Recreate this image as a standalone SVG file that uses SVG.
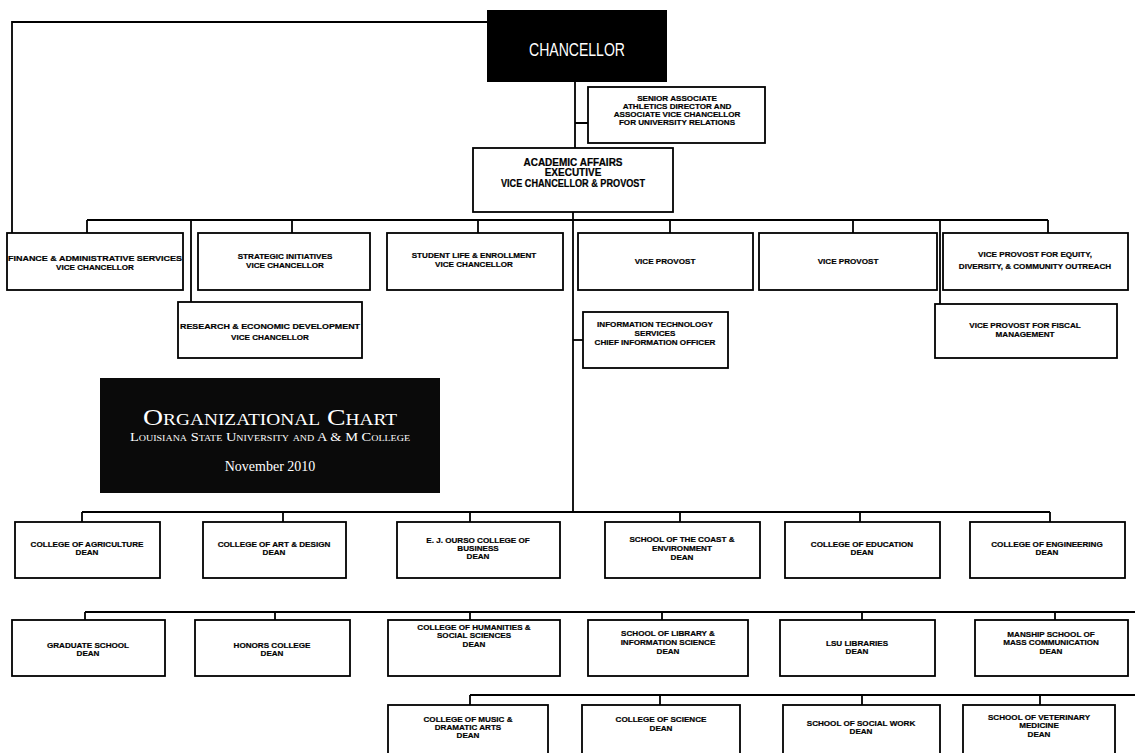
<svg xmlns="http://www.w3.org/2000/svg" width="1135" height="753" viewBox="0 0 1135 753">
<style>
.box{fill:#fff;stroke:#000;stroke-width:1.8}
.t{font-family:"Liberation Sans",Arial,sans-serif;font-weight:bold;font-size:8.1px;fill:#000;stroke:#000;stroke-width:0.2;text-anchor:middle}
.big{font-size:10px}
.ln{fill:none;stroke:#000;stroke-width:1.8}
.sc{font-family:"Liberation Serif","Times New Roman",serif;fill:#fff;text-anchor:middle}
</style>
<rect width="1135" height="753" fill="#fff"/>
<g id="connectors" class="ln">
<path d="M487 22H12V233"/>
<path d="M575 82V148M575 123H588"/>
<path d="M573 212V512"/>
<path d="M87 220H1048"/>
<path d="M87 220V233M191 220V302M292 220V233M478 220V233M670 220V233M853 220V233M940 220V304M1048 220V233"/>
<path d="M573 340H583"/>
<path d="M82 512H1050M82 512V522M283 512V522M470 512V522M680 512V522M860 512V522M1050 512V522"/>
<path d="M85 612H1135M85 612V620M275 612V620M470 612V620M662 612V620M862 612V620M1055 612V620"/>
<path d="M470 695H1135M470 695V705M660 695V705M862 695V705M1040 695V705"/>
</g>
<g id="chancellor">
<rect x="487" y="10" width="180" height="72" fill="#000"/>
<text x="577" y="56" font-family="Liberation Sans,Arial,sans-serif" font-size="17.5" fill="#fff" text-anchor="middle" textLength="96" lengthAdjust="spacingAndGlyphs">CHANCELLOR</text>
</g>
<g id="senior">
<rect class="box" x="588" y="87" width="177" height="56"/>
<text class="t" x="677" y="101">SENIOR ASSOCIATE</text>
<text class="t" x="677" y="109">ATHLETICS DIRECTOR AND</text>
<text class="t" x="677" y="117">ASSOCIATE VICE CHANCELLOR</text>
<text class="t" x="677" y="125">FOR UNIVERSITY RELATIONS</text>
</g>
<g id="academic">
<rect class="box" x="473" y="148" width="200" height="64"/>
<text class="t big" x="573" y="166">ACADEMIC AFFAIRS</text>
<text class="t big" x="573" y="176">EXECUTIVE</text>
<text class="t big" x="573" y="187" textLength="144" lengthAdjust="spacingAndGlyphs">VICE CHANCELLOR &amp; PROVOST</text>
</g>
<g id="finance">
<rect class="box" x="7" y="233" width="176" height="57"/>
<text class="t" x="95" y="261" textLength="174" lengthAdjust="spacingAndGlyphs">FINANCE &amp; ADMINISTRATIVE SERVICES</text>
<text class="t" x="95" y="270">VICE CHANCELLOR</text>
</g>
<g id="strategic">
<rect class="box" x="198" y="233" width="172" height="57"/>
<text class="t" x="285" y="259">STRATEGIC INITIATIVES</text>
<text class="t" x="285" y="268">VICE CHANCELLOR</text>
</g>
<g id="studentlife">
<rect class="box" x="387" y="233" width="176" height="57"/>
<text class="t" x="474" y="258">STUDENT LIFE &amp; ENROLLMENT</text>
<text class="t" x="474" y="267">VICE CHANCELLOR</text>
</g>
<g id="viceprovost1">
<rect class="box" x="578" y="233" width="175" height="57"/>
<text class="t" x="665" y="264">VICE PROVOST</text>
</g>
<g id="viceprovost2">
<rect class="box" x="759" y="233" width="178" height="57"/>
<text class="t" x="848" y="264">VICE PROVOST</text>
</g>
<g id="equity">
<rect class="box" x="943" y="233" width="185" height="57"/>
<text class="t" x="1035" y="257">VICE PROVOST FOR EQUITY,</text>
<text class="t" x="1035" y="269">DIVERSITY, &amp; COMMUNITY OUTREACH</text>
</g>
<g id="research">
<rect class="box" x="178" y="302" width="184" height="56"/>
<text class="t" x="270" y="329" textLength="180" lengthAdjust="spacingAndGlyphs">RESEARCH &amp; ECONOMIC DEVELOPMENT</text>
<text class="t" x="270" y="340">VICE CHANCELLOR</text>
</g>
<g id="infotech">
<rect class="box" x="583" y="312" width="145" height="56"/>
<text class="t" x="655" y="327">INFORMATION TECHNOLOGY</text>
<text class="t" x="655" y="336">SERVICES</text>
<text class="t" x="655" y="345">CHIEF INFORMATION OFFICER</text>
</g>
<g id="fiscal">
<rect class="box" x="935" y="304" width="182" height="54"/>
<text class="t" x="1025" y="328">VICE PROVOST FOR FISCAL</text>
<text class="t" x="1025" y="337">MANAGEMENT</text>
</g>
<g id="title">
<rect x="100" y="378" width="340" height="115" fill="#0a0a0a"/>
<text class="sc" x="270" y="425" font-size="23" font-variant="small-caps" textLength="254" lengthAdjust="spacingAndGlyphs">Organizational Chart</text>
<text class="sc" x="270" y="441" font-size="13" font-variant="small-caps" textLength="280" lengthAdjust="spacingAndGlyphs">Louisiana State University and A &amp; M College</text>
<text class="sc" x="270" y="471" font-size="14">November 2010</text>
</g>
<g id="agriculture">
<rect class="box" x="15" y="522" width="145" height="56"/>
<text class="t" x="87" y="547">COLLEGE OF AGRICULTURE</text>
<text class="t" x="87" y="555">DEAN</text>
</g>
<g id="artdesign">
<rect class="box" x="203" y="522" width="143" height="56"/>
<text class="t" x="274" y="547">COLLEGE OF ART &amp; DESIGN</text>
<text class="t" x="274" y="555">DEAN</text>
</g>
<g id="ourso">
<rect class="box" x="397" y="522" width="163" height="56"/>
<text class="t" x="478" y="543">E. J. OURSO COLLEGE OF</text>
<text class="t" x="478" y="551">BUSINESS</text>
<text class="t" x="478" y="559">DEAN</text>
</g>
<g id="coast">
<rect class="box" x="605" y="522" width="155" height="56"/>
<text class="t" x="682" y="542">SCHOOL OF THE COAST &amp;</text>
<text class="t" x="682" y="551">ENVIRONMENT</text>
<text class="t" x="682" y="560">DEAN</text>
</g>
<g id="education">
<rect class="box" x="785" y="522" width="155" height="56"/>
<text class="t" x="862" y="547">COLLEGE OF EDUCATION</text>
<text class="t" x="862" y="555">DEAN</text>
</g>
<g id="engineering">
<rect class="box" x="970" y="522" width="155" height="56"/>
<text class="t" x="1047" y="547">COLLEGE OF ENGINEERING</text>
<text class="t" x="1047" y="555">DEAN</text>
</g>
<g id="graduate">
<rect class="box" x="12" y="620" width="153" height="56"/>
<text class="t" x="88" y="648">GRADUATE SCHOOL</text>
<text class="t" x="88" y="656">DEAN</text>
</g>
<g id="honors">
<rect class="box" x="195" y="620" width="155" height="56"/>
<text class="t" x="272" y="648">HONORS COLLEGE</text>
<text class="t" x="272" y="656">DEAN</text>
</g>
<g id="humanities">
<rect class="box" x="388" y="620" width="172" height="56"/>
<text class="t" x="474" y="630">COLLEGE OF HUMANITIES &amp;</text>
<text class="t" x="474" y="638">SOCIAL SCIENCES</text>
<text class="t" x="474" y="647">DEAN</text>
</g>
<g id="library">
<rect class="box" x="588" y="620" width="160" height="56"/>
<text class="t" x="668" y="636">SCHOOL OF LIBRARY &amp;</text>
<text class="t" x="668" y="645">INFORMATION SCIENCE</text>
<text class="t" x="668" y="654">DEAN</text>
</g>
<g id="lsulibraries">
<rect class="box" x="780" y="620" width="155" height="56"/>
<text class="t" x="857" y="646">LSU LIBRARIES</text>
<text class="t" x="857" y="654">DEAN</text>
</g>
<g id="manship">
<rect class="box" x="975" y="620" width="153" height="56"/>
<text class="t" x="1051" y="637">MANSHIP SCHOOL OF</text>
<text class="t" x="1051" y="645">MASS COMMUNICATION</text>
<text class="t" x="1051" y="654">DEAN</text>
</g>
<g id="music">
<rect class="box" x="388" y="705" width="160" height="60"/>
<text class="t" x="468" y="722">COLLEGE OF MUSIC &amp;</text>
<text class="t" x="468" y="730">DRAMATIC ARTS</text>
<text class="t" x="468" y="738">DEAN</text>
</g>
<g id="science">
<rect class="box" x="582" y="705" width="158" height="60"/>
<text class="t" x="661" y="722">COLLEGE OF SCIENCE</text>
<text class="t" x="661" y="731">DEAN</text>
</g>
<g id="socialwork">
<rect class="box" x="783" y="705" width="157" height="60"/>
<text class="t" x="861" y="726">SCHOOL OF SOCIAL WORK</text>
<text class="t" x="861" y="734">DEAN</text>
</g>
<g id="veterinary">
<rect class="box" x="963" y="705" width="152" height="60"/>
<text class="t" x="1039" y="720">SCHOOL OF VETERINARY</text>
<text class="t" x="1039" y="728">MEDICINE</text>
<text class="t" x="1039" y="737">DEAN</text>
</g>
</svg>
